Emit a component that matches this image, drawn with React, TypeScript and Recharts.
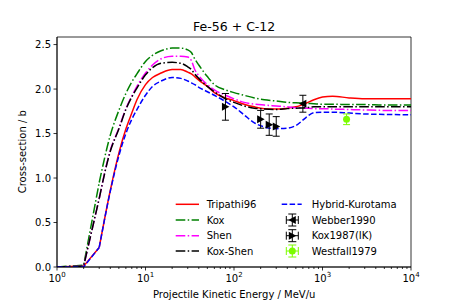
import { ComposedChart, Line, Scatter, ErrorBar, XAxis, YAxis, ReferenceArea } from "recharts"

const FONT = "DejaVu Sans, Verdana, sans-serif"

// energy grid (MeV/u) shared by the model curves
const energies = [1, 2, 3, 4, 5, 6, 7, 8, 10, 12, 15, 20, 25, 30, 33, 36, 40, 50, 60, 80, 100, 130, 170, 220, 300, 400, 500, 650, 800, 1000, 1300, 2000, 3000, 5000, 10000]

const tripathi96 = [0, 0.01, 0.22, 0.86, 1.28, 1.55, 1.73, 1.88, 2.05, 2.13, 2.18, 2.22, 2.22, 2.19, 2.17, 2.14, 2.1, 2.03, 1.96, 1.9, 1.87, 1.83, 1.8, 1.78, 1.775, 1.785, 1.8, 1.84, 1.88, 1.91, 1.92, 1.9, 1.89, 1.89, 1.89]
const kox = [0, 0.02, 0.95, 1.48, 1.76, 1.95, 2.08, 2.17, 2.31, 2.38, 2.43, 2.46, 2.46, 2.44, 2.41, 2.34, 2.27, 2.14, 2.05, 1.99, 1.96, 1.93, 1.9, 1.88, 1.865, 1.85, 1.845, 1.84, 1.835, 1.83, 1.83, 1.825, 1.825, 1.82, 1.82]
const shen = [0, 0.01, 0.77, 1.31, 1.56, 1.78, 1.92, 2.03, 2.18, 2.27, 2.34, 2.37, 2.37, 2.36, 2.32, 2.22, 2.15, 2.05, 1.99, 1.93, 1.89, 1.85, 1.83, 1.82, 1.81, 1.8, 1.79, 1.785, 1.78, 1.78, 1.775, 1.77, 1.765, 1.76, 1.76]
const koxShen = [0, 0.01, 0.77, 1.3, 1.55, 1.77, 1.91, 2.01, 2.16, 2.24, 2.29, 2.3, 2.29, 2.25, 2.22, 2.17, 2.12, 2.03, 1.97, 1.89, 1.85, 1.81, 1.785, 1.775, 1.77, 1.78, 1.785, 1.79, 1.8, 1.8, 1.8, 1.8, 1.8, 1.8, 1.8]
const hybridKurotama = [0, 0, 0.22, 0.85, 1.25, 1.5, 1.66, 1.77, 1.93, 2.03, 2.09, 2.13, 2.12, 2.09, 2.07, 2.05, 2.02, 1.97, 1.93, 1.86, 1.8, 1.71, 1.62, 1.575, 1.555, 1.56, 1.59, 1.68, 1.735, 1.74, 1.74, 1.73, 1.72, 1.715, 1.71]

// measurements
const webberE = [600]
const webberSigma = [1.835]
const webberErr = [0.095]

const koxE = [80, 200, 250, 300]
const koxSigma = [1.8, 1.66, 1.6, 1.58]
const koxErr = [0.15, 0.1, 0.12, 0.11]

const westfallE = [1870]
const westfallSigma = [1.66]
const westfallErr = [0.06]

const majorTicks = [1, 10, 100, 1000, 10000]
const xTicks = majorTicks.slice(0, -1).flatMap((d) => [1, 2, 3, 4, 5, 6, 7, 8, 9].map((m) => m * d)).concat([10000])
const yTicks = [0, 0.5, 1, 1.5, 2, 2.5]
const yMax = 2.585

const toSeries = (ys: number[]) => energies.map((x, i) => ({ x, y: ys[i] }))
const toPoints = (xs: number[], ys: number[], errs: number[]) => xs.map((x, i) => ({ x, y: ys[i], err: errs[i] }))

const DASHDOT = "9.6 2.4 1.5 2.4"
const curves = [
  { name: "Tripathi96", data: toSeries(tripathi96), color: "#ff0000", dash: undefined },
  { name: "Kox", data: toSeries(kox), color: "#008000", dash: DASHDOT },
  { name: "Shen", data: toSeries(shen), color: "#ff00ff", dash: DASHDOT },
  { name: "Kox-Shen", data: toSeries(koxShen), color: "#000000", dash: DASHDOT },
  { name: "Hybrid-Kurotama", data: toSeries(hybridKurotama), color: "#0000ff", dash: "5.5 2.4" },
]

function XTick({ x, y, payload }: any) {
  const v = payload.value as number
  const exp = Math.round(Math.log10(v))
  const major = majorTicks.includes(v)
  return (
    <g>
      <line x1={x} x2={x} y1={y} y2={y + (major ? 3.5 : 2)} stroke="#000" strokeWidth={0.8} />
      {major && (
        <text x={x} y={y + 14.5} textAnchor="middle" fontSize={10} fontFamily={FONT} fill="#000">
          10
          <tspan dy={-5} fontSize={7}>
            {exp}
          </tspan>
        </text>
      )}
    </g>
  )
}

function YTick({ x, y, payload }: any) {
  return (
    <g>
      <line x1={x - 3.5} x2={x} y1={y} y2={y} stroke="#000" strokeWidth={0.8} />
      <text x={x - 6} y={y} textAnchor="end" dominantBaseline="central" fontSize={10} fontFamily={FONT} fill="#000">
        {(payload.value as number).toFixed(1)}
      </text>
    </g>
  )
}

const triangle = (dir: 1 | -1) => (props: any) => {
  const { cx, cy } = props
  const pts = `${cx + 4 * dir},${cy} ${cx - 3.5 * dir},${cy - 4} ${cx - 3.5 * dir},${cy + 4}`
  return <polygon points={pts} fill="#000" />
}

const circle = (props: any) => <circle cx={props.cx} cy={props.cy} r={3.5} fill="#7cfc00" />

function ErrMarker({ cx, cy, color, children }: { cx: number; cy: number; color: string; children: any }) {
  return (
    <g stroke={color} strokeWidth={1}>
      <line x1={cx - 6} x2={cx + 6} y1={cy} y2={cy} />
      <line x1={cx - 6} x2={cx - 6} y1={cy - 4} y2={cy + 4} />
      <line x1={cx + 6} x2={cx + 6} y1={cy - 4} y2={cy + 4} />
      <line x1={cx} x2={cx} y1={cy - 6} y2={cy + 6} />
      <line x1={cx - 4} x2={cx + 4} y1={cy - 6} y2={cy - 6} />
      <line x1={cx - 4} x2={cx + 4} y1={cy + 6} y2={cy + 6} />
      {children}
    </g>
  )
}

function LegendBox() {
  const rows = [8.3, 24, 39.7, 55]
  const txt = { fontSize: 10, fontFamily: FONT, fill: "#000", dominantBaseline: "central" as const }
  return (
    <svg width={250} height={66} style={{ position: "absolute", left: 170, top: 196 }}>
      {curves.slice(0, 4).map((c, i) => (
        <g key={c.name}>
          <line x1={5.7} x2={29} y1={rows[i]} y2={rows[i]} stroke={c.color} strokeWidth={1.5} strokeDasharray={c.dash} />
          <text x={36.7} y={rows[i]} {...txt}>
            {c.name}
          </text>
        </g>
      ))}
      <line x1={111.7} x2={131.7} y1={rows[0]} y2={rows[0]} stroke="#0000ff" strokeWidth={1.5} strokeDasharray="5.5 2.4" />
      <text x={141.7} y={rows[0]} {...txt}>
        Hybrid-Kurotama
      </text>
      <ErrMarker cx={122.3} cy={rows[1]} color="#000">
        <polygon points={`${118.3},${rows[1]} ${125.8},${rows[1] - 4} ${125.8},${rows[1] + 4}`} fill="#000" stroke="none" />
      </ErrMarker>
      <text x={141.7} y={rows[1]} {...txt}>
        Webber1990
      </text>
      <ErrMarker cx={122.3} cy={rows[2]} color="#000">
        <polygon points={`${126.3},${rows[2]} ${118.8},${rows[2] - 4} ${118.8},${rows[2] + 4}`} fill="#000" stroke="none" />
      </ErrMarker>
      <text x={141.7} y={rows[2]} {...txt}>
        Kox1987(IK)
      </text>
      <ErrMarker cx={122.3} cy={rows[3]} color="#7cfc00">
        <circle cx={122.3} cy={rows[3]} r={3.5} fill="#7cfc00" stroke="none" />
      </ErrMarker>
      <text x={141.7} y={rows[3]} {...txt}>
        Westfall1979
      </text>
    </svg>
  )
}

// threshold region (1-3 MeV/u) is drawn straight, the rest smooth
const KNEE = 2

export default function App() {
  return (
    <div style={{ position: "relative", width: 457, height: 305, background: "#fff" }}>
      <style>{"body{margin:0}"}</style>
      <ComposedChart width={457} height={305} margin={{ top: 37, right: 46, bottom: 0, left: 0 }}>
        <XAxis
          dataKey="x"
          type="number"
          scale="log"
          domain={[1, 10000]}
          allowDataOverflow
          ticks={xTicks}
          interval={0}
          tickSize={0}
          tickMargin={0}
          tickLine={false}
          tick={<XTick />}
          height={38}
          axisLine={{ stroke: "#000", strokeWidth: 0.8 }}
          label={{
            content: () => (
              <g>
                <text x={234.2} y={298} textAnchor="middle" fontSize={10} fontFamily={FONT} fill="#000">
                  Projectile Kinetic Energy / MeV/u
                </text>
                <text x={234.2} y={30.5} textAnchor="middle" fontSize={12.5} fontFamily={FONT} fill="#000">
                  Fe-56 + C-12
                </text>
              </g>
            ),
          }}
        />
        <YAxis
          type="number"
          domain={[0, yMax]}
          allowDataOverflow
          ticks={yTicks}
          interval={0}
          tickSize={0}
          tickMargin={0}
          tickLine={false}
          tick={<YTick />}
          width={57}
          axisLine={{ stroke: "#000", strokeWidth: 0.8 }}
          label={{
            content: () => (
              <text
                x={22.7}
                y={151.7}
                transform="rotate(-90 22.7 151.7)"
                textAnchor="middle"
                dominantBaseline="central"
                fontSize={10}
                fontFamily={FONT}
                fill="#000"
              >
                Cross-section / b
              </text>
            ),
          }}
        />
        {curves.flatMap((c) => [
          <Line
            key={c.name + "-lin"}
            data={c.data.slice(0, KNEE + 1)}
            dataKey="y"
            name={c.name}
            type="linear"
            stroke={c.color}
            strokeWidth={1.5}
            strokeDasharray={c.dash}
            dot={false}
            activeDot={false}
            legendType="none"
            isAnimationActive={false}
          />,
          <Line
            key={c.name}
            data={c.data.slice(KNEE)}
            dataKey="y"
            name={c.name}
            type="monotone"
            stroke={c.color}
            strokeWidth={1.5}
            strokeDasharray={c.dash}
            dot={false}
            activeDot={false}
            isAnimationActive={false}
          />,
        ])}
        <Scatter name="Webber1990" data={toPoints(webberE, webberSigma, webberErr)} dataKey="y" shape={triangle(-1)} isAnimationActive={false}>
          <ErrorBar dataKey="err" direction="y" width={3.5} stroke="#000" strokeWidth={1} />
        </Scatter>
        <Scatter name="Kox1987(IK)" data={toPoints(koxE, koxSigma, koxErr)} dataKey="y" shape={triangle(1)} isAnimationActive={false}>
          <ErrorBar dataKey="err" direction="y" width={3.5} stroke="#000" strokeWidth={1} />
        </Scatter>
        <Scatter name="Westfall1979" data={toPoints(westfallE, westfallSigma, westfallErr)} dataKey="y" shape={circle} isAnimationActive={false}>
          <ErrorBar dataKey="err" direction="y" width={3.5} stroke="#7cfc00" strokeWidth={1} />
        </Scatter>
        <ReferenceArea x1={1} x2={10000} y1={0} y2={yMax} fill="none" stroke="#000" strokeWidth={0.8} ifOverflow="visible" />
      </ComposedChart>
      <LegendBox />
    </div>
  )
}
